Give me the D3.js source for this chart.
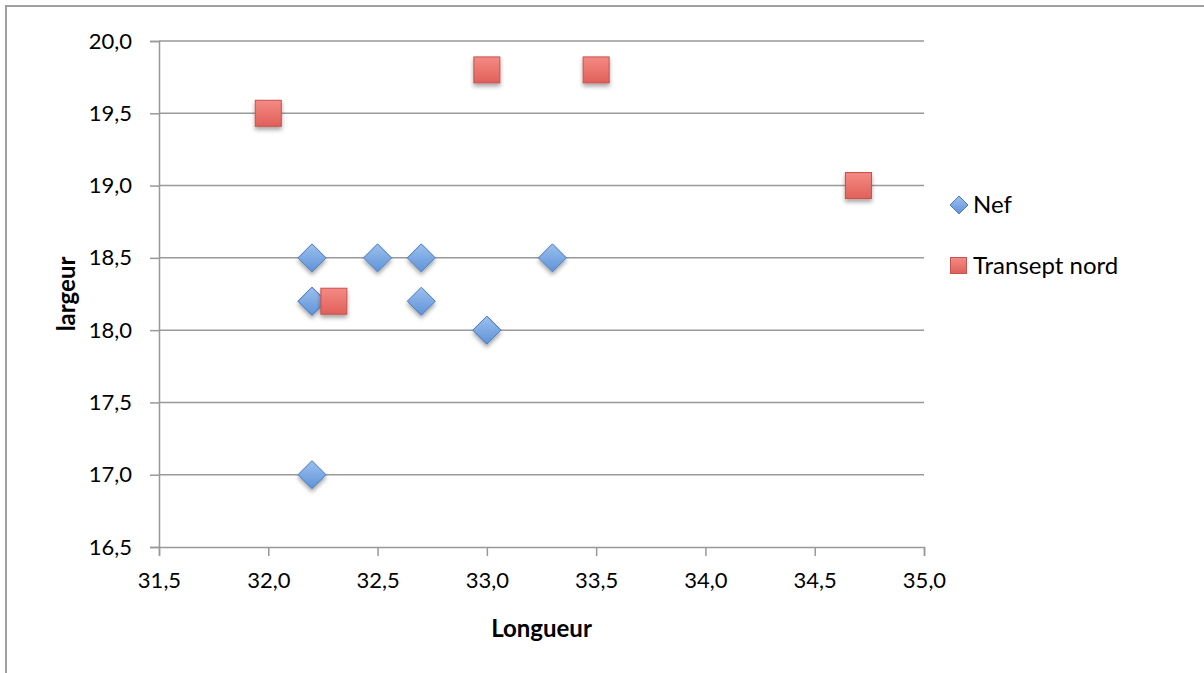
<!DOCTYPE html>
<html><head><meta charset="utf-8">
<script src="https://cdn.jsdelivr.net/npm/d3@7"></script>
<style>
html,body{margin:0;padding:0;background:#fff;}
text{font-family:Lato,"Open Sans",sans-serif;fill:#000;}
</style></head>
<body><svg id="c" width="1204" height="673"></svg>
<script>
const nefX = [32.2, 32.2, 32.2, 32.5, 32.7, 32.7, 33.0, 33.0, 33.3, 32.2];
const nefY = [18.5, 18.2, 18.2, 18.5, 18.5, 18.2, 18.0, 18.0, 18.5, 17.0];
const trX = [32.0, 33.0, 33.5, 34.7, 34.7, 32.3];
const trY = [19.5, 19.8, 19.8, 19.0, 19.0, 18.2];
const xTicks = [31.5, 32.0, 32.5, 33.0, 33.5, 34.0, 34.5, 35.0];
const yTicks = [16.5, 17.0, 17.5, 18.0, 18.5, 19.0, 19.5, 20.0];
const seriesNames = ["Nef", "Transept nord"];
const xTitle = "Longueur", yTitle = "largeur";

const svg = d3.select("#c");
const defs = svg.append("defs");
const f = defs.append("filter").attr("id","sh").attr("x","-50%").attr("y","-50%").attr("width","200%").attr("height","200%");
f.append("feDropShadow").attr("dx",0).attr("dy",3).attr("stdDeviation",2).attr("flood-color","#000").attr("flood-opacity",0.35);
const gb = defs.append("linearGradient").attr("id","gb").attr("x1",0).attr("y1",0).attr("x2",0).attr("y2",1);
gb.append("stop").attr("offset","0").attr("stop-color","#9cc0ee");
gb.append("stop").attr("offset","1").attr("stop-color","#5f93d8");
const gr = defs.append("linearGradient").attr("id","gr").attr("x1",0).attr("y1",0).attr("x2",0).attr("y2",1);
gr.append("stop").attr("offset","0").attr("stop-color","#f58a84");
gr.append("stop").attr("offset","1").attr("stop-color","#e0605a");

svg.append("rect").attr("x",6).attr("y",6).attr("width",1300).attr("height",800)
  .attr("fill","none").attr("stroke","#a0a0a0").attr("stroke-width",2);

const x = d3.scaleLinear().domain([31.5,35]).range([159,924]);
const y = d3.scaleLinear().domain([16.5,20]).range([547,41]);
const fmt = d => d3.format(".1f")(d).replace(".", ",");

// gridlines
svg.append("g").selectAll("line").data(yTicks.slice(1)).join("line")
  .attr("x1",x(31.5)).attr("x2",x(35)).attr("y1",d=>y(d)).attr("y2",d=>y(d))
  .attr("stroke","#999").attr("stroke-width",1.5);

const ya = svg.append("g").attr("transform",`translate(${x(31.5)},0)`)
  .call(d3.axisLeft(y).tickValues(yTicks).tickFormat(fmt).tickSize(9).tickPadding(18));
const xa = svg.append("g").attr("transform",`translate(0,${y(16.5)})`)
  .call(d3.axisBottom(x).tickValues(xTicks).tickFormat(fmt).tickSize(9).tickPadding(16));
[ya,xa].forEach(a=>{
  a.selectAll("path,line").attr("stroke","#999").attr("stroke-width",1.5);
  a.selectAll("text").style("font-family","Lato, 'Open Sans', sans-serif").style("font-size","22px").attr("fill","#000");
});

svg.append("text").attr("x",(x(31.5)+x(35))/2).attr("y",637).attr("text-anchor","middle")
  .style("font-weight","bold").style("font-size","24px").text(xTitle);
svg.append("text").attr("transform",`translate(75,${(y(16.5)+y(20))/2}) rotate(-90)`).attr("text-anchor","middle")
  .style("font-weight","bold").style("font-size","24px").text(yTitle);

const dia = (cx,cy,r)=>`M${cx},${cy-r}L${cx+r},${cy}L${cx},${cy+r}L${cx-r},${cy}Z`;
const nef = d3.zip(nefX,nefY), tr = d3.zip(trX,trY);
svg.append("g").attr("filter","url(#sh)").selectAll("path").data(nef).join("path")
  .attr("d",d=>dia(x(d[0]),y(d[1]),14)).attr("fill","url(#gb)").attr("stroke","#4a7cbf").attr("stroke-width",1);
svg.append("g").attr("filter","url(#sh)").selectAll("rect").data(tr).join("rect")
  .attr("x",d=>x(d[0])-13).attr("y",d=>y(d[1])-13).attr("width",26).attr("height",26)
  .attr("fill","url(#gr)").attr("stroke","#c8524d").attr("stroke-width",1);

// legend
const lg = svg.append("g");
lg.append("path").attr("d",dia(959,205,9)).attr("fill","url(#gb)").attr("stroke","#4a7cbf");
lg.append("rect").attr("x",950.5).attr("y",257.5).attr("width",16).attr("height",16).attr("fill","url(#gr)").attr("stroke","#c8524d");
lg.append("text").attr("x",973).attr("y",213).style("font-size","24px").text(seriesNames[0]);
lg.append("text").attr("x",973).attr("y",274).style("font-size","24px").text(seriesNames[1]);
</script></body></html>
